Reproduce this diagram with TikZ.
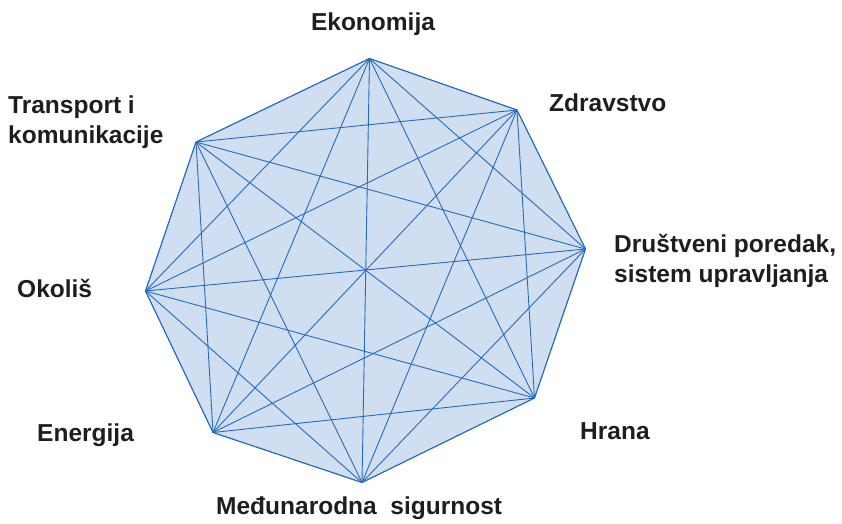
\documentclass[tikz,border=0pt]{standalone}
\usepackage{fontspec}
\setmainfont{Liberation Sans}
\definecolor{edgeblue}{RGB}{38,108,188}
\definecolor{fillblue}{RGB}{207,222,241}
\definecolor{txt}{RGB}{30,30,30}
\begin{document}
\begin{tikzpicture}[x=1pt,y=-1pt,
  lbl/.style={font=\bfseries\fontsize{24.5}{30}\selectfont, text=txt, inner sep=0pt},
  edge/.style={draw=edgeblue, line width=0.9pt}]
\useasboundingbox (0,0) rectangle (842,523);
\coordinate (v1) at (369.5,58.5);
\coordinate (v2) at (517,110);
\coordinate (v3) at (585.5,249);
\coordinate (v4) at (534.5,398);
\coordinate (v5) at (362,482.5);
\coordinate (v6) at (213,432.5);
\coordinate (v7) at (145.5,291);
\coordinate (v8) at (196,142);
\fill[fillblue] (v1)--(v2)--(v3)--(v4)--(v5)--(v6)--(v7)--(v8)--cycle;
\foreach \i in {1,...,7}{
  \pgfmathtruncatemacro\s{\i+1}
  \foreach \j in {\s,...,8}{
    \draw[edge] (v\i) -- (v\j);
  }
}
\draw[edge, line join=round] (v1)--(v2)--(v3)--(v4)--(v5)--(v6)--(v7)--(v8)--cycle;
\node[lbl] (l1) at (373,24) {Ekonomija};
\node[lbl, anchor=west] (l2) at (549,103) {Zdravstvo};
\node[lbl, anchor=west, align=left] (l3) at (614,261) {Društveni poredak,\\sistem upravljanja};
\node[lbl, anchor=west] (l4) at (580,431) {Hrana};
\node[lbl, anchor=west] (l5) at (216,508) {Međunarodna\ \ sigurnost};
\node[lbl, anchor=west] (l6) at (37,435) {Energija};
\node[lbl, anchor=west] (l7) at (17,288) {Okoliš};
\node[lbl, anchor=west, align=left] (l8) at (8,122) {Transport i\\komunikacije};
\end{tikzpicture}
\end{document}
